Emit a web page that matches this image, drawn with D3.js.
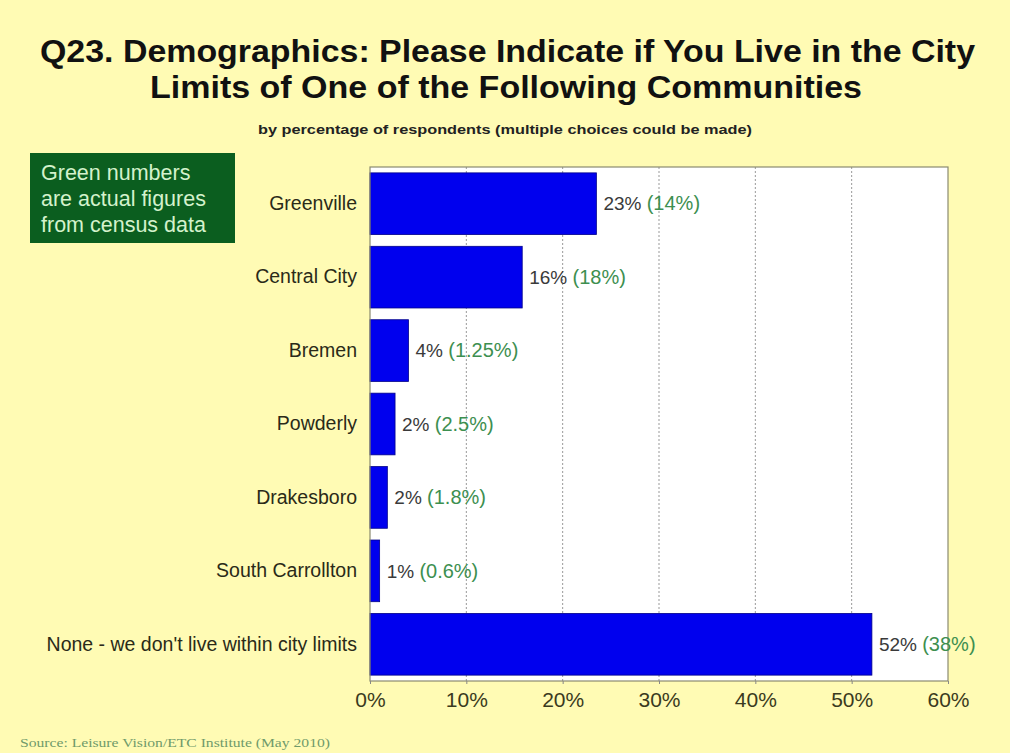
<!DOCTYPE html>
<html><head><meta charset="utf-8">
<script src="https://cdn.jsdelivr.net/npm/d3@7"></script>
<style>html,body{margin:0;padding:0;background:#fffbb4;}svg{display:block;}</style>
</head><body>
<svg id="c" width="1010" height="753"></svg>
<script>
const categories = ["Greenville","Central City","Bremen","Powderly","Drakesboro","South Carrollton","None - we don't live within city limits"];
const values = [23.5, 15.8, 4.0, 2.6, 1.8, 1.0, 52.1];
const valueLabels = ["23%","16%","4%","2%","2%","1%","52%"];
const censusLabels = ["(14%)","(18%)","(1.25%)","(2.5%)","(1.8%)","(0.6%)","(38%)"];
const ticks = [0,10,20,30,40,50,60];

const FONT = "Liberation Sans, Arial, sans-serif";
const svg = d3.select("#c");
const W = 1010, H = 753;
svg.append("rect").attr("width",W).attr("height",H).attr("fill","#fffbb4");

const m = {left:370, top:167, right:948, bottom:681};
const x = d3.scaleLinear().domain([0,60]).range([m.left,m.right]);
const y = d3.scaleBand().domain(categories).range([m.top,m.bottom]).paddingInner(0.16).paddingOuter(0.08);

// title
const title = svg.append("g").attr("font-family",FONT).attr("font-weight","bold").attr("font-size",32).attr("fill","#111");
title.append("text").attr("x",40).attr("y",62).attr("textLength",935).attr("lengthAdjust","spacingAndGlyphs")
  .text("Q23. Demographics: Please Indicate if You Live in the City");
title.append("text").attr("x",150).attr("y",98).attr("textLength",712).attr("lengthAdjust","spacingAndGlyphs")
  .text("Limits of One of the Following Communities");
svg.append("text").attr("x",258).attr("y",134).attr("textLength",494).attr("lengthAdjust","spacingAndGlyphs")
  .attr("font-family",FONT).attr("font-weight","bold").attr("font-size",13).attr("fill","#222")
  .text("by percentage of respondents (multiple choices could be made)");

// plot area
svg.append("rect").attr("x",m.left).attr("y",m.top).attr("width",m.right-m.left).attr("height",m.bottom-m.top)
  .attr("fill","#ffffff");
// grid
svg.append("g").selectAll("line").data(ticks.filter(t=>t>0 && t<60)).join("line")
  .attr("x1",d=>x(d)).attr("x2",d=>x(d)).attr("y1",m.top).attr("y2",m.bottom)
  .attr("stroke","#999").attr("stroke-width",1).attr("stroke-dasharray","2,2");

// bars
svg.append("g").selectAll("rect").data(categories).join("rect")
  .attr("x",x(0)).attr("y",d=>y(d)).attr("width",(d,i)=>x(values[i])-x(0)).attr("height",y.bandwidth())
  .attr("fill","#0000ee").attr("stroke","#00008a").attr("stroke-width",0.8);

// border
svg.append("rect").attr("x",m.left).attr("y",m.top).attr("width",m.right-m.left).attr("height",m.bottom-m.top)
  .attr("fill","none").attr("stroke","#8a8a70").attr("stroke-width",1.2);

// x axis
const xAxis = d3.axisBottom(x).tickValues(ticks).tickFormat(d=>d+"%").tickSize(3);
const gx = svg.append("g").attr("transform",`translate(0,${m.bottom})`).call(xAxis);
gx.select(".domain").remove();
gx.selectAll("line").attr("stroke","#888");
gx.selectAll("text").attr("font-family",FONT).attr("font-size",21).attr("fill","#3a3a20").attr("dy","0.95em");

// y axis labels
const yAxis = d3.axisLeft(y).tickSize(0).tickPadding(13);
const gy = svg.append("g").attr("transform",`translate(${m.left},0)`).call(yAxis);
gy.select(".domain").remove();
gy.selectAll("text").attr("font-family",FONT).attr("font-size",19.5).attr("fill","#2a2a18");

// value labels
const vl = svg.append("g").selectAll("text").data(categories).join("text")
  .attr("x",(d,i)=>x(values[i])+7).attr("y",d=>y(d)+y.bandwidth()/2).attr("dy","0.35em")
  .attr("font-family",FONT).attr("font-size",19);
vl.append("tspan").attr("fill","#3a3a3a").text((d,i)=>valueLabels[i]+" ");
vl.append("tspan").attr("fill","#3d8f50").attr("font-size",20).text((d,i)=>censusLabels[i]);

// green note box
svg.append("rect").attr("x",30).attr("y",153).attr("width",205).attr("height",90).attr("fill","#0b5e1f");
const note = svg.append("text").attr("font-family",FONT).attr("font-size",21.5).attr("fill","#d4f2cc");
["Green numbers","are actual figures","from census data"].forEach((t,i)=>{
  note.append("tspan").attr("x",41).attr("y",180+i*26).text(t);
});

// source
svg.append("text").attr("x",20).attr("y",747).attr("textLength",310).attr("lengthAdjust","spacingAndGlyphs")
  .attr("font-family","Liberation Serif, Times New Roman, serif")
  .attr("font-size",13).attr("fill","#6f9a6a").text("Source:  Leisure Vision/ETC Institute (May 2010)");
</script>
</body></html>
